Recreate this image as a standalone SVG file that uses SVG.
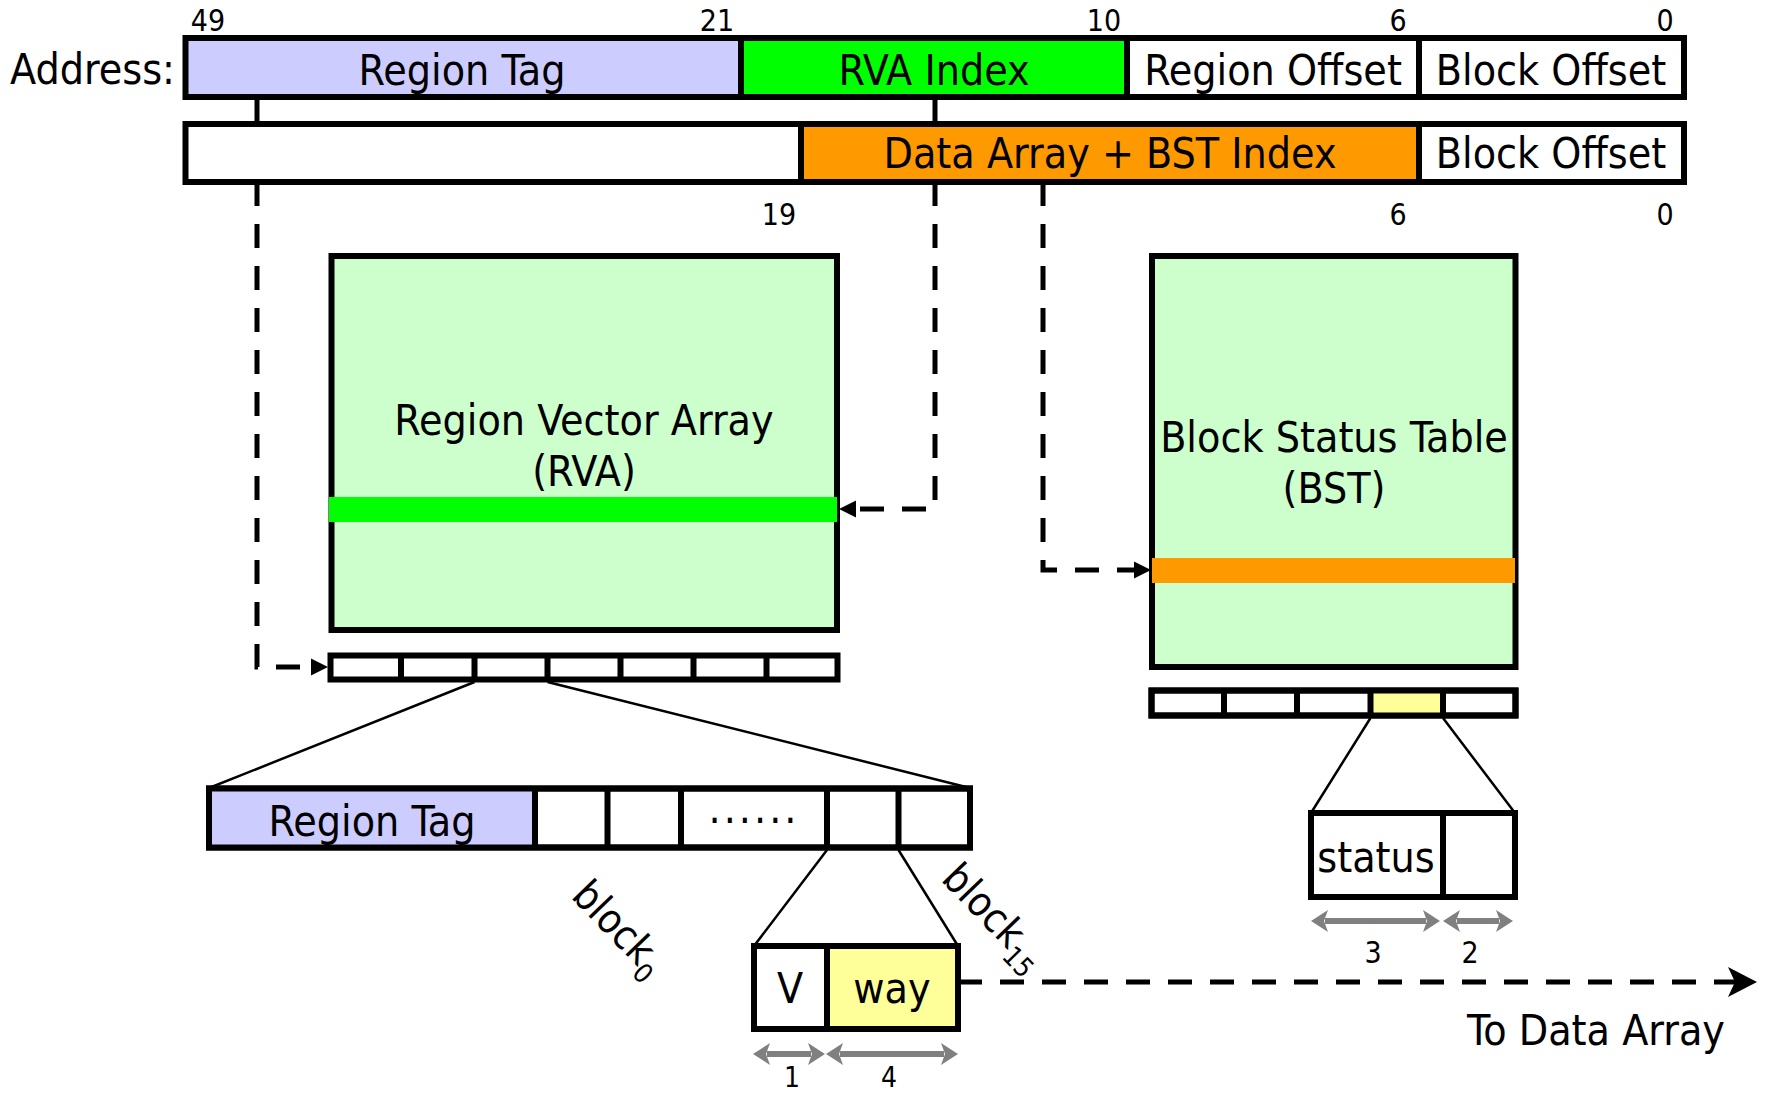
<svg xmlns="http://www.w3.org/2000/svg" width="1765" height="1095" viewBox="0 0 1765 1095">
  <style>
    text { font-family: "DejaVu Sans Condensed", "DejaVu Sans", sans-serif; font-stretch: condensed; fill: #000; }
    .lbl { font-size: 42.5px; text-anchor: middle; }
    .num { font-size: 30px; text-anchor: middle; }
    .box { stroke: #000; stroke-width: 6; }
    .div { stroke: #000; stroke-width: 6; fill: none; }
    .thin { stroke: #000; stroke-width: 2.5; fill: none; }
    .dash { stroke: #000; stroke-width: 5; fill: none; stroke-dasharray: 24 18; }
    .stub { stroke: #000; stroke-width: 5; fill: none; }
    .gray { stroke: #808080; stroke-width: 6; fill: none; }
  </style>
  <defs>
    <marker id="head" markerUnits="userSpaceOnUse" markerWidth="17" markerHeight="17" refX="0" refY="8.5" orient="auto" overflow="visible">
      <path d="M0,0 L17,8.5 L0,17 z" fill="#000"/>
    </marker>
    <marker id="bighead" markerUnits="userSpaceOnUse" markerWidth="29" markerHeight="30" refX="7" refY="15" orient="auto" overflow="visible">
      <path d="M0,0 L29,15 L0,30 L7,15 z" fill="#000"/>
    </marker>
    <marker id="grayhead" markerUnits="userSpaceOnUse" markerWidth="17" markerHeight="22" refX="3" refY="11" orient="auto-start-reverse" overflow="visible">
      <path d="M0,0 L17,11 L0,22 L4,11 z" fill="#808080"/>
    </marker>
  </defs>

  <rect width="1765" height="1095" fill="#fff"/>

  <!-- physical address fields -->
  <g id="address-bar">
    <text x="10" y="84" style="font-size:42.5px">Address:</text>
    <rect class="box" x="185.5" y="38" width="555.5" height="59" fill="#CCCCFF"/>
    <rect class="box" x="741" y="38" width="386" height="59" fill="#00FF00"/>
    <rect class="box" x="1127" y="38" width="292" height="59" fill="#fff"/>
    <rect class="box" x="1419" y="38" width="265" height="59" fill="#fff"/>
    <text class="lbl" x="462" y="85">Region Tag</text>
    <text class="lbl" x="934" y="85">RVA Index</text>
    <text class="lbl" x="1273" y="85">Region Offset</text>
    <text class="lbl" x="1551" y="85">Block Offset</text>
    <text class="num" x="208" y="31">49</text>
    <text class="num" x="717" y="31">21</text>
    <text class="num" x="1104" y="31">10</text>
    <text class="num" x="1398" y="31">6</text>
    <text class="num" x="1665" y="31">0</text>
  </g>

  <!-- data array / BST indexing view of the same address -->
  <g id="index-bar">
    <rect class="box" x="185.5" y="124" width="615.5" height="58" fill="#fff"/>
    <rect class="box" x="801" y="124" width="618" height="58" fill="#FF9900"/>
    <rect class="box" x="1419" y="124" width="265" height="58" fill="#fff"/>
    <text class="lbl" x="1110" y="168">Data Array + BST Index</text>
    <text class="lbl" x="1551" y="168">Block Offset</text>
    <text class="num" x="779" y="225">19</text>
    <text class="num" x="1398" y="225">6</text>
    <text class="num" x="1665" y="225">0</text>
  </g>

  <!-- Region Vector Array -->
  <g id="rva">
    <rect class="box" x="331.5" y="256" width="505.5" height="374" fill="#CCFFCC"/>
    <rect x="329" y="497" width="508" height="25" fill="#00FF00"/>
    <text class="lbl" x="584" y="435">Region Vector Array</text>
    <text class="lbl" x="584" y="486">(RVA)</text>
  </g>

  <g id="rva-entries">
    <rect class="box" x="330.5" y="655.5" width="507" height="24" fill="#fff"/>
    <path class="div" d="M401,655.5 V679.5 M474.5,655.5 V679.5 M547.5,655.5 V679.5 M620.5,655.5 V679.5 M693.5,655.5 V679.5 M766.5,655.5 V679.5"/>
  </g>

  <!-- one RVA entry: region tag + per-block vectors -->
  <g id="rva-entry">
    <rect class="box" x="209" y="788.5" width="761" height="59" fill="#fff"/>
    <rect x="209" y="788.5" width="326" height="59" fill="#CCCCFF"/>
    <rect class="box" x="209" y="788.5" width="761" height="59" fill="none"/>
    <path class="div" d="M535,788.5 V847.5 M607.5,788.5 V847.5 M681,788.5 V847.5 M827,788.5 V847.5 M898.5,788.5 V847.5"/>
    <text class="lbl" x="372" y="836">Region Tag</text>
    <text class="lbl" x="754" y="823" style="letter-spacing:3px">......</text>
  </g>

  <g id="block-labels">
    <text transform="translate(570,897) rotate(46)" style="font-size:41px">block<tspan dy="10" style="font-size:27px">0</tspan></text>
    <text transform="translate(940,880) rotate(46)" style="font-size:41px">block<tspan dy="10" style="font-size:27px">15</tspan></text>
  </g>

  <!-- per-block vector: valid bit + way -->
  <g id="block-vector">
    <rect class="box" x="754" y="946" width="204" height="83" fill="#fff"/>
    <rect x="827" y="946" width="131" height="83" fill="#FFFF99"/>
    <rect class="box" x="754" y="946" width="204" height="83" fill="none"/>
    <path class="div" d="M827,946 V1029"/>
    <text class="lbl" x="790" y="1003">V</text>
    <text class="lbl" x="892" y="1003">way</text>
    <path class="gray" d="M767,1054 H811" marker-start="url(#grayhead)" marker-end="url(#grayhead)"/>
    <path class="gray" d="M840,1054 H944" marker-start="url(#grayhead)" marker-end="url(#grayhead)"/>
    <text class="num" x="792" y="1087" style="font-size:28px">1</text>
    <text class="num" x="889" y="1087" style="font-size:28px">4</text>
  </g>

  <!-- Block Status Table -->
  <g id="bst">
    <rect class="box" x="1152" y="256" width="363.5" height="411" fill="#CCFFCC"/>
    <rect x="1152" y="558" width="363" height="25" fill="#FF9900"/>
    <text class="lbl" x="1334" y="452">Block Status Table</text>
    <text class="lbl" x="1334" y="503">(BST)</text>
  </g>

  <g id="bst-entries">
    <rect class="box" x="1151.5" y="690.5" width="364" height="25" fill="#fff"/>
    <rect x="1370.5" y="690.5" width="72.5" height="25" fill="#FFFF99"/>
    <rect class="box" x="1151.5" y="690.5" width="364" height="25" fill="none"/>
    <path class="div" d="M1224,690.5 V715.5 M1297,690.5 V715.5 M1370.5,690.5 V715.5 M1443,690.5 V715.5"/>
  </g>

  <g id="bst-entry">
    <rect class="box" x="1311" y="813" width="204" height="84" fill="#fff"/>
    <path class="div" d="M1443,813 V897"/>
    <text class="lbl" x="1376" y="872">status</text>
    <path class="gray" d="M1325,921 H1426" marker-start="url(#grayhead)" marker-end="url(#grayhead)"/>
    <path class="gray" d="M1457,921 H1499" marker-start="url(#grayhead)" marker-end="url(#grayhead)"/>
    <text class="num" x="1373" y="963">3</text>
    <text class="num" x="1470" y="963">2</text>
  </g>

  <g id="to-data-array">
    <text x="1725" y="1045" style="font-size:42.5px;text-anchor:end">To Data Array</text>
  </g>

  <!-- connectors -->
  <g id="connectors">
    <path class="stub" d="M257,97 V124 M935,97 V124"/>
    <path class="dash" d="M257,182 V667 H311" marker-end="url(#head)"/>
    <path class="dash" d="M935,182 V509 H856" marker-end="url(#head)"/>
    <path class="dash" d="M1043,182 V570 H1134" marker-end="url(#head)"/>
    <path class="dash" d="M958,982 H1735" marker-end="url(#bighead)"/>
    <path class="thin" d="M474.5,682 L209,788 M547.5,682 L970,788"/>
    <path class="thin" d="M827,850 L754,946 M898.5,850 L958,946"/>
    <path class="thin" d="M1370.5,718 L1311,813 M1443,718 L1515,813"/>
  </g>
</svg>
